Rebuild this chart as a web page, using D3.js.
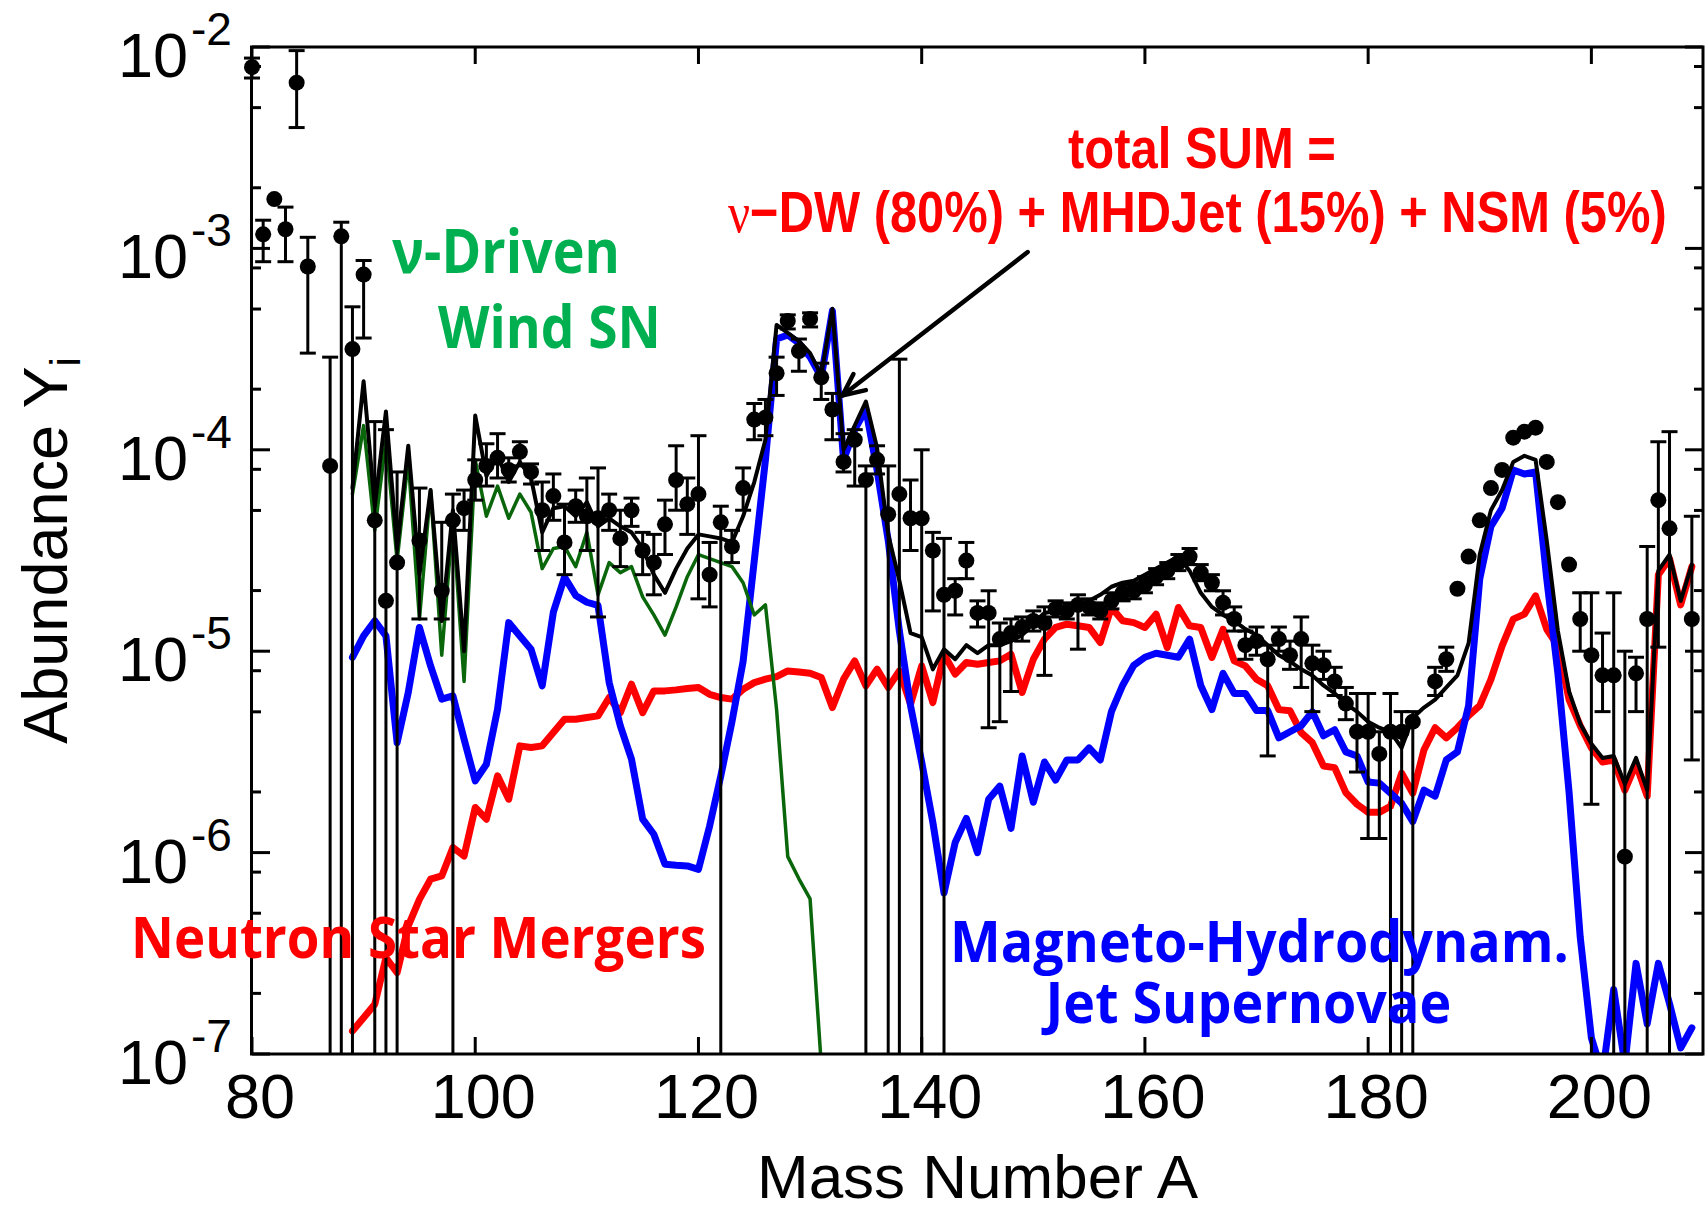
<!DOCTYPE html>
<html>
<head>
<meta charset="utf-8">
<script src="https://cdn.jsdelivr.net/npm/d3@7"></script>
<style>
  html, body { margin: 0; padding: 0; background: #fff; }
  svg { display: block; }
</style>
</head>
<body>
<svg id="chart" width="1706" height="1212"></svg>
<script>
// r-process abundance pattern: solar r-residuals vs. three production sites.
// All abundances are given as log10(Y).

// Mass numbers of the model curves
const massA = d3.range(89, 210);      // 89 ... 209
const dwA   = d3.range(89, 132);      // 89 ... 131

// Neutron star mergers (log10 Y), A = 89..209
const nsmLog = [
  -6.886,-6.820,-6.753,-6.522,-6.596,-6.364,-6.232,-6.132,-6.116,-5.975,
  -6.017,-5.776,-5.834,-5.619,-5.735,-5.470,-5.478,-5.470,-5.404,-5.338,
  -5.338,-5.329,-5.321,-5.230,-5.305,-5.164,-5.305,-5.197,-5.197,-5.192,
  -5.185,-5.180,-5.214,-5.230,-5.238,-5.189,-5.156,-5.139,-5.126,-5.098,
  -5.103,-5.109,-5.131,-5.280,-5.139,-5.048,-5.172,-5.089,-5.180,-5.098,
  -5.263,-5.073,-5.255,-5.015,-5.114,-5.056,-5.065,-5.056,-5.048,-5.015,
  -5.205,-5.040,-4.940,-4.882,-4.866,-4.874,-4.882,-4.957,-4.783,-4.849,
  -4.858,-4.882,-4.816,-4.982,-4.783,-4.874,-4.882,-5.031,-4.891,-5.048,
  -5.073,-5.139,-5.172,-5.290,-5.296,-5.404,-5.454,-5.570,-5.578,-5.702,
  -5.760,-5.800,-5.800,-5.770,-5.606,-5.705,-5.490,-5.380,-5.430,-5.380,
  -5.320,-5.270,-5.140,-4.974,-4.841,-4.816,-4.725,-4.891,-4.974,-5.240,
  -5.370,-5.480,-5.550,-5.540,-5.690,-5.560,-5.720,-4.620,-4.540,-4.770,
  -4.580
];

// Magneto-hydrodynamical jet supernovae (log10 Y), A = 89..209
const mhdLog = [
  -5.031,-4.924,-4.849,-4.924,-5.454,-5.205,-4.882,-5.073,-5.238,-5.222,
  -5.437,-5.644,-5.561,-5.288,-4.858,-4.924,-4.990,-5.172,-4.806,-4.632,
  -4.723,-4.757,-4.773,-5.156,-5.371,-5.536,-5.834,-5.909,-6.058,-6.063,
  -6.066,-6.083,-5.868,-5.620,-5.350,-5.050,-4.550,-4.050,-3.450,-3.430,
  -3.470,-3.540,-3.640,-3.310,-4.050,-3.900,-3.800,-4.100,-4.450,-4.900,
  -5.270,-5.550,-5.850,-6.200,-5.950,-5.830,-6.000,-5.735,-5.670,-5.880,
  -5.520,-5.750,-5.550,-5.640,-5.540,-5.540,-5.480,-5.540,-5.300,-5.170,
  -5.070,-5.030,-5.010,-5.020,-5.030,-4.940,-5.170,-5.290,-5.110,-5.210,
  -5.210,-5.295,-5.295,-5.430,-5.400,-5.370,-5.300,-5.420,-5.390,-5.500,
  -5.520,-5.650,-5.655,-5.705,-5.755,-5.846,-5.690,-5.720,-5.540,-5.500,
  -5.270,-4.640,-4.380,-4.290,-4.100,-4.120,-4.110,-4.640,-5.110,-5.700,
  -6.420,-6.920,-7.100,-6.680,-7.050,-6.550,-6.850,-6.550,-6.750,-6.970,
  -6.870
];

// Neutrino-driven wind supernovae (log10 Y), A = 89..131
const dwLog = [
  -4.22,-3.88,-4.40,-3.95,-4.55,-4.05,-4.84,-4.20,-5.02,-4.35,
  -5.15,-4.05,-4.33,-4.18,-4.34,-4.22,-4.31,-4.59,-4.49,-4.48,
  -4.58,-4.41,-4.72,-4.56,-4.61,-4.58,-4.73,-4.82,-4.92,-4.78,
  -4.63,-4.52,-4.54,-4.56,-4.58,-4.66,-4.82,-4.77,-5.29,-6.02,
  -6.13,-6.23,-7.05
];

// Weighted total (log10 Y), A = 89..209
const totalLog = [
  -4.19,-3.66,-4.28,-3.81,-4.49,-3.98,-4.62,-4.20,-4.85,-4.30,
  -5.00,-3.83,-4.13,-4.03,-4.16,-4.06,-4.14,-4.41,-4.29,-4.28,
  -4.33,-4.26,-4.38,-4.34,-4.38,-4.41,-4.49,-4.62,-4.71,-4.59,
  -4.49,-4.42,-4.43,-4.44,-4.46,-4.33,-4.16,-3.95,-3.38,-3.42,
  -3.46,-3.52,-3.63,-3.30,-4.00,-3.88,-3.76,-3.99,-4.42,-4.65,
  -4.91,-4.93,-5.09,-4.99,-5.04,-4.97,-5.01,-4.97,-4.97,-4.95,
  -4.92,-4.86,-4.81,-4.80,-4.79,-4.77,-4.75,-4.72,-4.68,-4.66,
  -4.65,-4.62,-4.59,-4.56,-4.53,-4.60,-4.71,-4.78,-4.82,-4.85,
  -4.89,-4.92,-4.97,-5.02,-5.05,-5.09,-5.12,-5.17,-5.21,-5.26,
  -5.30,-5.35,-5.38,-5.40,-5.48,-5.33,-5.28,-5.24,-5.18,-5.12,
  -4.96,-4.52,-4.30,-4.20,-4.06,-4.03,-4.05,-4.45,-4.90,-5.20,
  -5.36,-5.46,-5.53,-5.52,-5.66,-5.53,-5.69,-4.60,-4.52,-4.75,
  -4.57
];

// Solar r-process residuals: mass number, log10 Y, upper / lower error ends
// (null = no bar drawn, -8 = bar runs below the axis)
const obsA = [
  80,81,82,83,84,85,87,88,89,90,91,92,93,95,97,98,99,100,101,102,
  103,104,105,106,107,108,109,110,111,112,113,114,115,116,117,118,119,120,121,122,
  123,124,125,126,127,128,129,130,131,132,133,134,135,136,137,138,139,140,141,142,
  143,144,145,146,147,148,149,150,151,152,153,154,155,156,157,158,159,160,161,162,
  163,164,165,166,167,168,169,170,171,172,173,174,175,176,177,178,179,180,181,182,
  183,184,186,187,188,189,190,191,192,193,194,195,196,197,198,199,200,201,202,203,
  204,205,206,207,209
];
const obsLog = [
  -2.10,-2.93,-2.755,-2.905,-2.177,-3.09,-4.08,-2.94,-3.50,-3.13,-4.35,-4.75,-4.56,-4.45,-4.70,-4.35,-4.29,-4.15,-4.08,-4.04,
  -4.10,-4.01,-4.11,-4.30,-4.23,-4.46,-4.28,-4.33,-4.34,-4.30,-4.44,-4.30,-4.50,-4.56,-4.37,-4.15,-4.27,-4.22,-4.62,-4.36,
  -4.48,-4.19,-3.85,-3.84,-3.62,-3.36,-3.51,-3.35,-3.64,-3.80,-4.06,-3.95,-4.15,-4.05,-4.32,-4.22,-4.34,-4.34,-4.50,-4.72,
  -4.70,-4.55,-4.81,-4.81,-4.94,-4.91,-4.88,-4.85,-4.86,-4.79,-4.80,-4.77,-4.78,-4.80,-4.75,-4.71,-4.70,-4.67,-4.63,-4.60,
  -4.56,-4.53,-4.61,-4.66,-4.76,-4.84,-4.97,-4.95,-5.04,-4.94,-5.02,-4.94,-5.06,-5.07,-5.15,-5.26,-5.40,-5.40,-5.51,-5.40,
  -5.40,-5.35,-5.15,-5.04,-4.69,-4.53,-4.35,-4.19,-4.10,-3.94,-3.91,-3.89,-4.06,-4.26,-4.57,-4.84,-5.02,-5.12,-5.12,-6.02,
  -5.11,-4.84,-4.25,-4.39,-4.84
];
const obsHi = [
  -2.055,-2.86,null,-2.795,-2.018,-2.945,-3.54,-2.87,-3.29,-3.06,-3.86,-3.90,-4.11,-4.19,-4.36,-4.22,-4.20,-4.05,-3.97,-3.92,
  -4.04,-3.96,-4.07,-4.16,-4.12,-4.27,-4.20,-4.14,-4.09,-4.22,-4.30,-4.24,-4.41,-4.42,-4.25,-3.98,-4.14,-3.93,-4.46,-4.28,
  -4.40,-4.09,-3.77,-3.75,-3.54,-3.33,-3.45,-3.32,-3.57,-3.72,-3.92,-3.90,-4.08,-3.98,-4.08,-3.55,-4.15,-4.00,-4.41,-4.44,
  -4.64,-4.46,-4.75,-4.70,-4.86,-4.84,-4.83,-4.80,-4.78,-4.75,-4.76,-4.72,-4.74,-4.76,-4.71,-4.67,-4.66,-4.63,-4.59,-4.56,
  -4.52,-4.49,-4.57,-4.62,-4.70,-4.78,-4.90,-4.88,-4.97,-4.88,-4.95,-4.83,-4.97,-5.00,-5.08,-5.18,-5.21,-5.21,-5.40,-5.21,
  -5.30,-5.30,-5.08,-4.98,null,null,null,null,null,null,null,null,null,null,null,-4.71,-4.71,-4.91,-4.71,-5.00,
  -5.03,-4.48,-3.96,-3.91,-4.33
];
const obsLo = [
  -2.154,-3.066,null,-3.066,-2.40,-3.52,-8,-8,-8,-3.445,-8,-8,-8,-4.84,-4.84,-8,-4.40,-4.25,-4.18,-4.14,
  -4.16,-4.08,-4.17,-4.50,-4.35,-4.62,-4.36,-4.50,-4.83,-4.40,-4.58,-4.38,-4.62,-4.72,-4.52,-4.30,-4.42,-4.74,-4.78,-8,
  -4.56,-4.30,-3.95,-3.93,-3.73,-3.40,-3.61,-3.39,-3.75,-3.95,-4.11,-4.18,-8,-4.12,-8,-8,-4.50,-8,-4.80,-8,
  -4.82,-4.64,-4.88,-5.38,-5.35,-5.20,-4.95,-4.90,-5.12,-4.83,-4.84,-4.99,-4.82,-4.84,-4.79,-4.75,-4.74,-4.71,-4.67,-4.64,
  -4.60,-4.57,-4.65,-4.70,-4.82,-4.90,-5.04,-5.02,-5.52,-5.00,-5.09,-5.18,-5.30,-5.14,-5.22,-5.34,-5.60,-5.93,-5.93,-8,
  -8,-8,-5.22,-5.10,null,null,null,null,null,null,null,null,null,null,null,-5.00,-5.76,-5.30,-8,-8,
  -5.30,-8,-4.98,-8,-5.54
];

// Axis ticks
const xTicks = [80, 100, 120, 140, 160, 180, 200];
const yExponents = [-7, -6, -5, -4, -3, -2];
const yMinorMantissas = [2, 5, 8];

// ---------------------------------------------------------------
const svg = d3.select('#chart');
const x = d3.scaleLinear().domain([80, 210]).range([252, 1703]);
const y = d3.scaleLog().domain([1e-7, 1e-2]).range([1054, 47]);
const Y = v => y(Math.pow(10, v));

const pL = x(80), pR = x(210), pT = y(1e-2), pB = y(1e-7);

svg.append('rect').attr('width', 1706).attr('height', 1212).attr('fill', '#fff');

svg.append('defs').append('clipPath').attr('id', 'plotClip')
  .append('rect')
  .attr('x', pL).attr('y', pT)
  .attr('width', pR - pL).attr('height', pB - pT);

const plot = svg.append('g').attr('clip-path', 'url(#plotClip)');

const toPoints = (aArr, vArr) => aArr.map((a, i) => ({ a, v: vArr[i] }));
const line = d3.line().x(d => x(d.a)).y(d => Y(d.v));

function drawCurve(points, color, width) {
  plot.append('path')
    .datum(points)
    .attr('d', line)
    .attr('fill', 'none')
    .attr('stroke', color)
    .attr('stroke-width', width)
    .attr('stroke-linejoin', 'round')
    .attr('stroke-linecap', 'round');
}

drawCurve(toPoints(massA, nsmLog), '#ff0000', 7);
drawCurve(toPoints(massA, mhdLog), '#0000ff', 7);
drawCurve(toPoints(dwA, dwLog), '#0a660a', 3.5);
drawCurve(toPoints(massA, totalLog), '#000000', 4);

// Error bars and data points
const obs = obsA.map((a, i) => ({ a, v: obsLog[i], hi: obsHi[i], lo: obsLo[i] }));
const bars = svg.append('g').attr('stroke', '#000').attr('stroke-width', 3).attr('fill', 'none');
const capHalf = 8;
obs.filter(d => d.hi !== null).forEach(d => {
  const cx = x(d.a);
  const yTop = Y(d.hi);
  const offAxis = d.lo <= -7.5;
  const yBot = offAxis ? pB : Y(d.lo);
  bars.append('line').attr('x1', cx).attr('x2', cx).attr('y1', yTop).attr('y2', yBot);
  bars.append('line').attr('x1', cx - capHalf).attr('x2', cx + capHalf).attr('y1', yTop).attr('y2', yTop);
  if (!offAxis) {
    bars.append('line').attr('x1', cx - capHalf).attr('x2', cx + capHalf).attr('y1', yBot).attr('y2', yBot);
  }
});

svg.append('g').selectAll('circle')
  .data(obs)
  .join('circle')
  .attr('cx', d => x(d.a))
  .attr('cy', d => Y(d.v))
  .attr('r', 8)
  .attr('fill', '#000');

// Frame and ticks
const axis = svg.append('g').attr('stroke', '#000').attr('stroke-width', 3);
axis.append('rect')
  .attr('x', pL - 0.5).attr('y', pT)
  .attr('width', pR - pL + 0.5).attr('height', pB - pT)
  .attr('fill', 'none');

xTicks.forEach(t => {
  const px = x(t);
  axis.append('line').attr('x1', px).attr('x2', px).attr('y1', pB).attr('y2', pB - 17);
  axis.append('line').attr('x1', px).attr('x2', px).attr('y1', pT).attr('y2', pT + 17);
});

yExponents.forEach(e => {
  const py = y(Math.pow(10, e));
  axis.append('line').attr('x1', pL).attr('x2', pL + 18).attr('y1', py).attr('y2', py);
  axis.append('line').attr('x1', pR).attr('x2', pR - 18).attr('y1', py).attr('y2', py);
  if (e < -2) {
    yMinorMantissas.forEach(m => {
      const my = y(m * Math.pow(10, e));
      axis.append('line').attr('x1', pL).attr('x2', pL + 9).attr('y1', my).attr('y2', my);
      axis.append('line').attr('x1', pR).attr('x2', pR - 9).attr('y1', my).attr('y2', my);
    });
  }
});

const axisFont = 'Liberation Sans, Arial, Helvetica, sans-serif';

// x tick labels
svg.append('g').selectAll('text')
  .data(xTicks)
  .join('text')
  .attr('x', d => x(d) + 8)
  .attr('y', 1118)
  .attr('text-anchor', 'middle')
  .attr('font-family', axisFont)
  .attr('font-size', 63)
  .attr('fill', '#000')
  .text(d => d);

// y tick labels: 10 with superscript exponent
const yl = svg.append('g').attr('font-family', axisFont).attr('fill', '#000');
yExponents.forEach(e => {
  const py = y(Math.pow(10, e));
  yl.append('text').attr('x', 188).attr('y', py + 30)
    .attr('text-anchor', 'end').attr('font-size', 63).text('10');
  yl.append('text').attr('x', 191).attr('y', py - 2)
    .attr('font-size', 46).text('-' + Math.abs(e));
});

// Axis titles
svg.append('text')
  .attr('x', (pL + pR) / 2).attr('y', 1198)
  .attr('text-anchor', 'middle')
  .attr('font-family', axisFont).attr('font-size', 62).attr('fill', '#000')
  .text('Mass Number A');

const yTitle = svg.append('text')
  .attr('transform', `translate(67, ${(pT + pB) / 2}) rotate(-90)`)
  .attr('text-anchor', 'middle')
  .attr('font-family', axisFont).attr('font-size', 63).attr('fill', '#000');
yTitle.append('tspan').text('Abundance Y');
yTitle.append('tspan').attr('dy', 13).attr('font-size', 42).text('i');

// Text fitted to a given width by a horizontal scale about its start point
function fittedText(px, py, width, family, weight, size, color) {
  const t = svg.append('text')
    .attr('x', 0).attr('y', 0)
    .attr('font-family', family).attr('font-weight', weight)
    .attr('font-size', size).attr('fill', color);
  t.fit = (measureNode) => {
    const node = measureNode || t.node();
    const natural = node.getComputedTextLength();
    const sx = natural > 0 ? width / natural : 1;
    t.attr('transform', `translate(${px},${py}) scale(${sx},1)`);
    return t;
  };
  return t;
}

// Source labels
const labelFont = 'Open Sans, Noto Sans, sans-serif';
[
  ['\u03BD-Driven', 392, 273, '#00b050', 60, 228],
  ['Wind SN', 438, 348, '#00b050', 60, 223],
  ['Neutron Star Mergers', 131, 958, '#ff0000', 58, 575]
].forEach(([txt, px, py, color, size, len]) => {
  fittedText(px, py, len, labelFont, 700, size, color).text(txt).fit();
});

// Two-line jet supernova label as a single text block
const jetLabel = fittedText(950, 962, 619, labelFont, 700, 58, '#0000ff');
const jetLine1 = jetLabel.append('tspan').attr('x', 0).attr('y', 0).text('Magneto-Hydrodynam.');
jetLabel.append('tspan').attr('x', 103).attr('y', 61).text('Jet Supernovae');
jetLabel.fit(jetLine1.node());

// Sum formula
const sumFont = 'Liberation Sans Narrow, Arial Narrow, Liberation Sans, sans-serif';
fittedText(1068, 168, 268, sumFont, 700, 58, '#ff0000').text('total SUM =').fit();
const sum2 = fittedText(728, 232, 939, sumFont, 700, 58, '#ff0000');
sum2.append('tspan').attr('font-family', 'Liberation Serif, DejaVu Serif, serif')
  .attr('font-weight', 400).text('\u03BD');
sum2.append('tspan').text('\u2212DW (80%) + MHDJet (15%) + NSM (5%)');
sum2.fit();

// Arrow pointing at the summed curve
const arrowTail = { a: 149.5, v: -3.018 };
const arrowTip = { a: 132.9, v: -3.73 };
const tx = x(arrowTail.a), ty = Y(arrowTail.v);
const hx = x(arrowTip.a), hy = Y(arrowTip.v);
const ang = Math.atan2(ty - hy, tx - hx);
const headLen = 24, spread = 25 * Math.PI / 180;
const arrow = svg.append('g').attr('stroke', '#000').attr('stroke-width', 4.5)
  .attr('fill', 'none').attr('stroke-linecap', 'round').attr('stroke-linejoin', 'miter');
arrow.append('line').attr('x1', tx).attr('y1', ty).attr('x2', hx).attr('y2', hy);
arrow.append('polyline').attr('points', [
  [hx + headLen * Math.cos(ang + spread), hy + headLen * Math.sin(ang + spread)],
  [hx, hy],
  [hx + headLen * Math.cos(ang - spread), hy + headLen * Math.sin(ang - spread)]
].map(p => p.join(',')).join(' '));
</script>
</body>
</html>
